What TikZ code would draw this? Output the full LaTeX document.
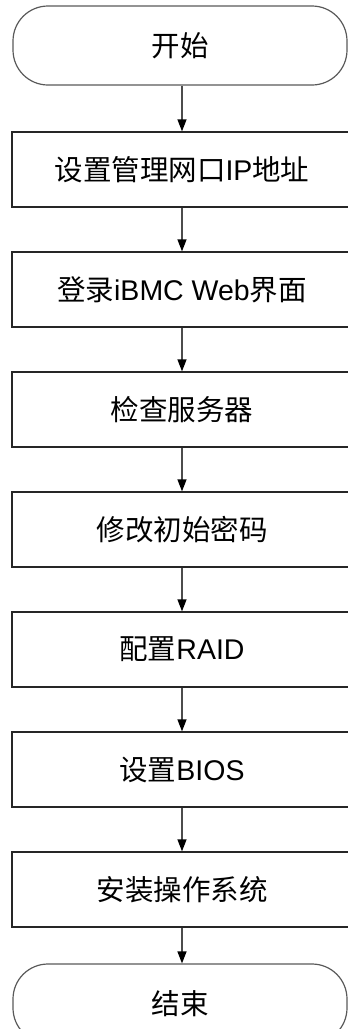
\documentclass[tikz,border=0pt]{standalone}
\usepackage{fontspec}
\setmainfont{Liberation Sans}
\newfontfamily\cjk{Noto Sans CJK SC}
\usetikzlibrary{arrows.meta}
\newcommand{\zh}[1]{{\cjk #1}}
\tikzset{
  terminal/.style={draw=black!65, line width=1.2pt, rounded corners=35pt,
    minimum width=334pt, minimum height=79pt, inner sep=0pt},
  procbox/.style={draw=black!85, line width=1.3pt,
    minimum width=340pt, minimum height=75pt, inner sep=0pt},
  flowarrow/.style={draw=black!70, line width=1.3pt,
    -{Triangle[width=9pt,length=12pt,color=black]}},
}
\begin{document}
\begin{tikzpicture}[x=1pt,y=-1pt,font=\fontsize{28.5}{31}\selectfont]
    \useasboundingbox (0,0) rectangle (348,1029);
    \clip (0,0) rectangle (348,1029);

    % Start / end
    \node[terminal] (start) at (180,45.5) {\zh{开始}};
    \node[terminal] (stop) at (180,1003.5) {\zh{结束}};

    % Steps
    \node[procbox] (ip)    at (182,169.5) {\zh{设置管理网口}IP\zh{地址}};
    \node[procbox] (login) at (182,289.5) {\zh{登录}iBMC Web\zh{界面}};
    \node[procbox] (check) at (182,409.5) {\zh{检查服务器}};
    \node[procbox] (pwd)   at (182,529.5) {\zh{修改初始密码}};
    \node[procbox] (raid)  at (182,649.5) {\zh{配置}RAID};
    \node[procbox] (bios)  at (182,769.5) {\zh{设置}BIOS};
    \node[procbox] (os)    at (182,889.5) {\zh{安装操作系统}};

    % Arrows
    \draw[flowarrow] (ip.north |- start.south) -- (ip.north);
    \draw[flowarrow] (ip) -- (login);
    \draw[flowarrow] (login) -- (check);
    \draw[flowarrow] (check) -- (pwd);
    \draw[flowarrow] (pwd) -- (raid);
    \draw[flowarrow] (raid) -- (bios);
    \draw[flowarrow] (bios) -- (os);
    \draw[flowarrow] (os.south) -- (os.south |- stop.north);
\end{tikzpicture}
\end{document}
